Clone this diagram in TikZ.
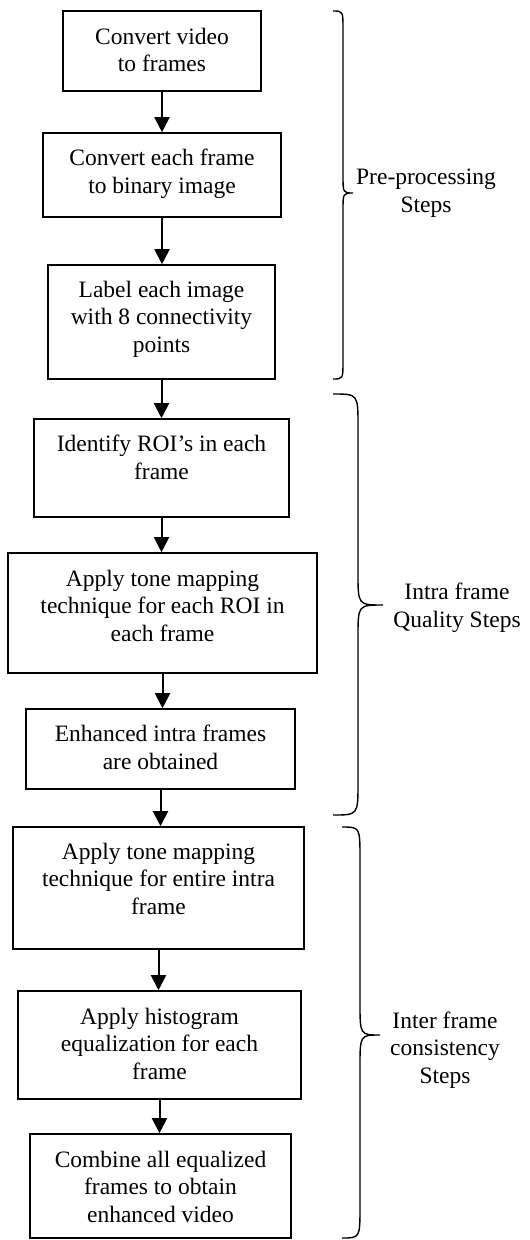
\documentclass[tikz,border=0pt]{standalone}
\usepackage{fontspec}
\setmainfont{Liberation Serif}
\usetikzlibrary{arrows.meta}
\begin{document}
\begin{tikzpicture}[x=1pt,y=-1pt,
  box/.style={draw, line width=1.6pt, inner sep=0pt},
  txt/.style={align=center, anchor=base, inner sep=0pt, font=\fontsize{23.5}{27.5}\selectfont},
  arr/.style={line width=2pt, -{Triangle[length=15pt,width=15pt]}},
  brace/.style={line width=1.4pt}]
\useasboundingbox (0,0) rectangle (530,1240);
% boxes
\node[box, minimum width=198pt, minimum height=80pt]  (b1) at (162,51) {};
\node[box, minimum width=238pt, minimum height=84pt]  (b2) at (162,175) {};
\node[box, minimum width=227pt, minimum height=114pt] (b3) at (161.5,322) {};
\node[box, minimum width=255pt, minimum height=98pt]  (b4) at (161.5,468) {};
\node[box, minimum width=309pt, minimum height=120pt] (b5) at (162.5,613) {};
\node[box, minimum width=269pt, minimum height=80pt]  (b6) at (160.5,749) {};
\node[box, minimum width=291pt, minimum height=122pt] (b7) at (158.5,888) {};
\node[box, minimum width=283pt, minimum height=108pt] (b8) at (159.5,1045) {};
\node[box, minimum width=261pt, minimum height=104pt] (b9) at (160.5,1186) {};
% texts (anchor base = baseline of last line)
\node[txt] (t1) at (162,71.7) {Convert video\\to frames};
\node[txt] (t2) at (162,193) {Convert each frame\\to binary image};
\node[txt] (t3) at (161.5,352) {Label each image\\with 8 connectivity\\points};
\node[txt] (t4) at (161.5,479) {Identify ROI’s in each\\frame};
\node[txt] (t5) at (162.5,641) {Apply tone mapping\\technique for each ROI in\\each frame};
\node[txt] (t6) at (160.5,769) {Enhanced intra frames\\are obtained};
\node[txt] (t7) at (158.5,914) {Apply tone mapping\\technique for entire intra\\frame};
\node[txt] (t8) at (159.5,1079) {Apply histogram\\equalization for each\\frame};
\node[txt] (t9) at (160.5,1222) {Combine all equalized\\frames to obtain\\enhanced video};
% arrows
\draw[arr] (b1.south) -- (b1.south |- b2.north);
\draw[arr] (b2.south) -- (b2.south |- b3.north);
\draw[arr] (b3.south) -- (b3.south |- b4.north);
\draw[arr] (b4.south) -- (b4.south |- b5.north);
\draw[arr] (b5.south) -- (b5.south |- b6.north);
\draw[arr] (b6.south) -- (b6.south |- b7.north);
\draw[arr] (b7.south) -- (b7.south |- b8.north);
\draw[arr] (b8.south) -- (b8.south |- b9.north);
% braces
\draw[brace] (333,11) .. controls (343,11) .. (343,29) -- (343,175) .. controls (343,193) .. (353,193) .. controls (343,193) .. (343,211) -- (343,361) .. controls (343,379) .. (333,379);
\draw[brace] (333,394) .. controls (358,394) .. (358,426) -- (358,573) .. controls (358,605) .. (383,605) .. controls (358,605) .. (358,637) -- (358,783) .. controls (358,815) .. (333,815);
\draw[brace] (342,827) .. controls (360,827) .. (360,859) -- (360,1003) .. controls (360,1035) .. (380,1035) .. controls (360,1035) .. (360,1067) -- (360,1206) .. controls (360,1238) .. (342,1238);
% brace labels
\node[txt] (l1) at (426,212) {Pre-processing\\Steps};
\node[txt] (l2) at (457,627) {Intra frame\\Quality Steps};
\node[txt] (l3) at (445,1083) {Inter frame\\consistency\\Steps};
\end{tikzpicture}
\end{document}
